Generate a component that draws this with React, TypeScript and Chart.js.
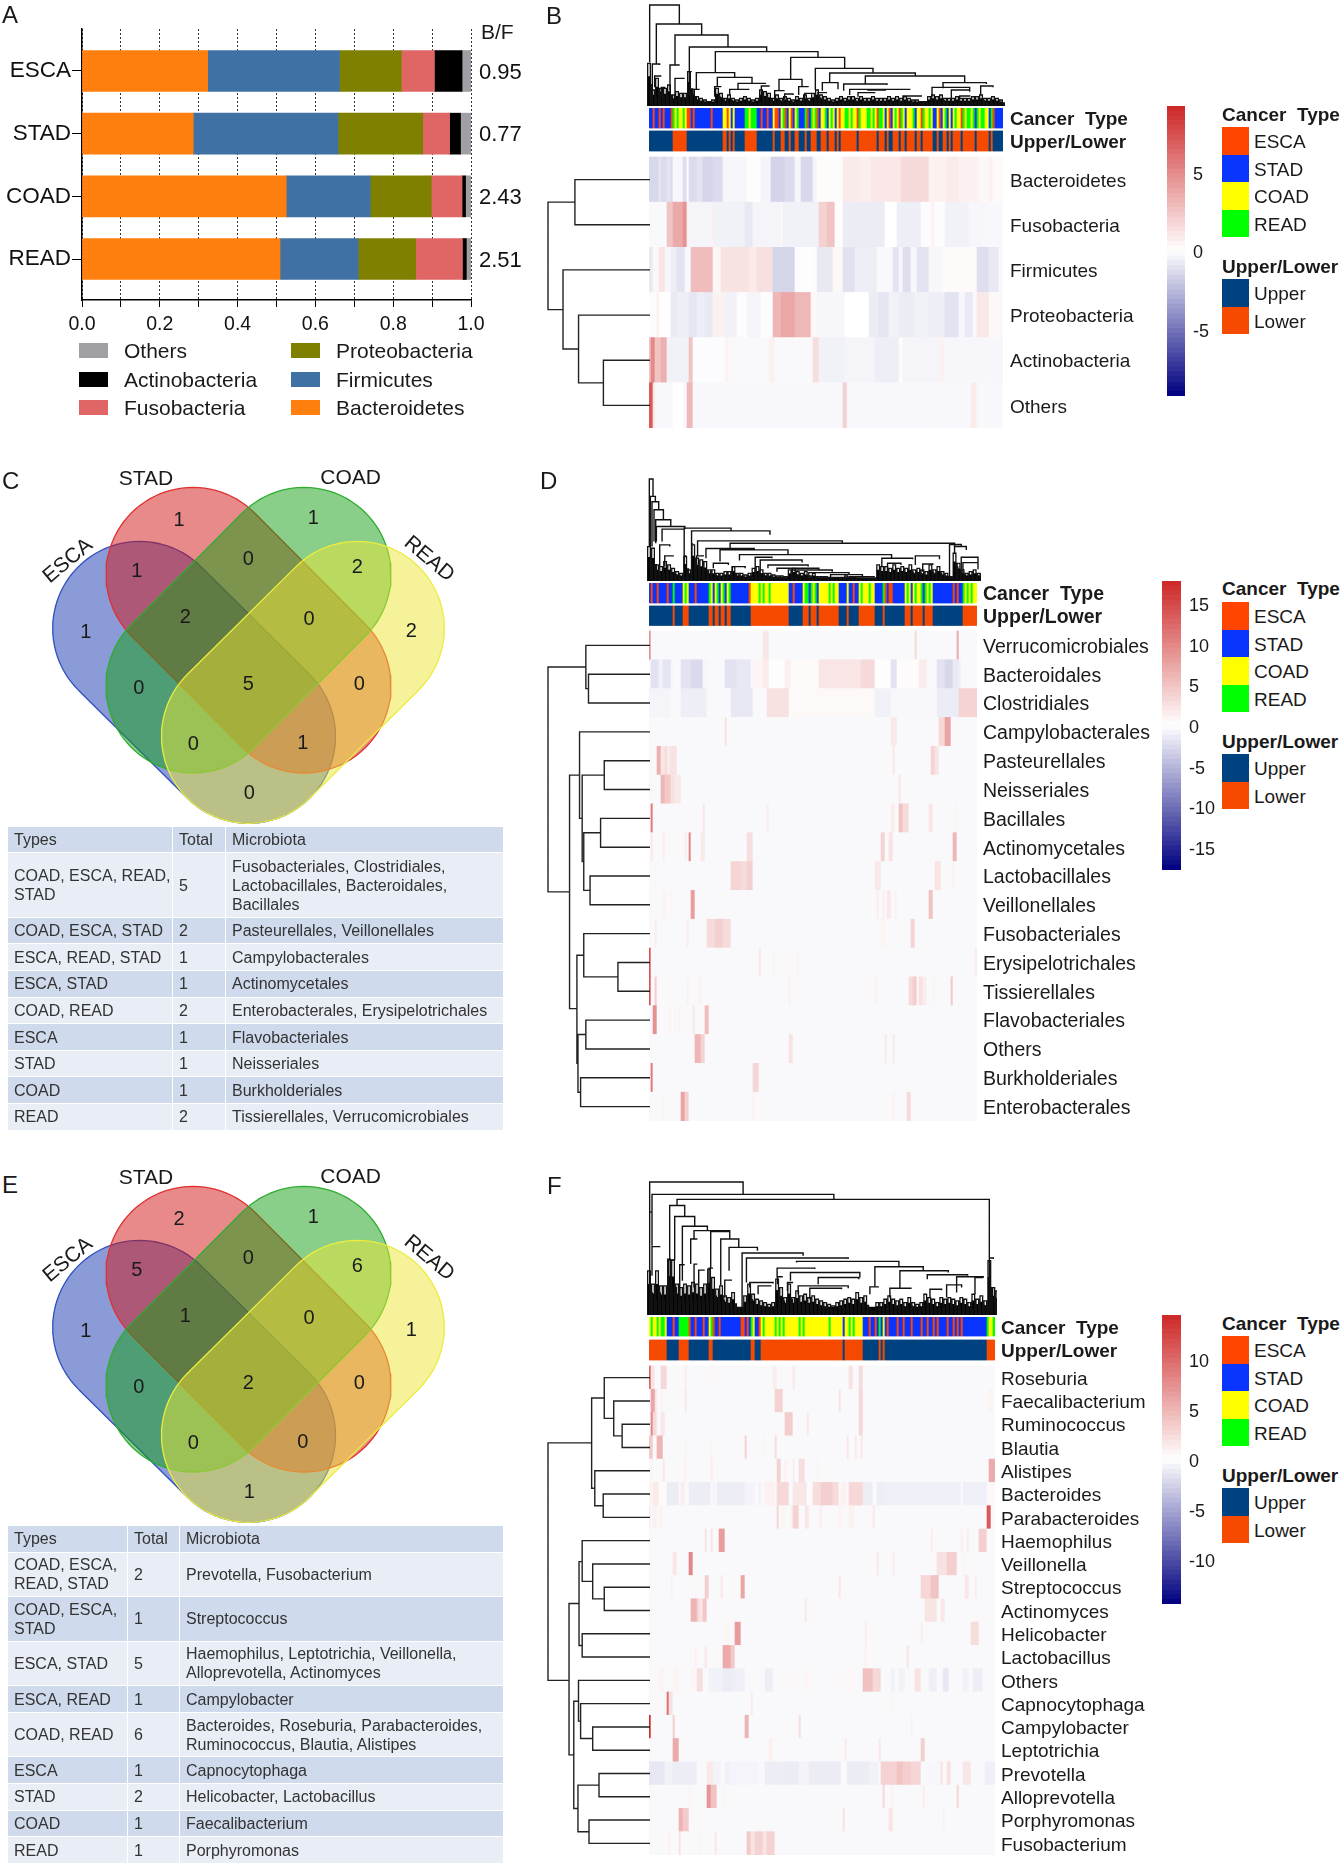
import React, { useEffect, useRef } from "react";
import { Chart, registerables } from "chart.js";
Chart.register(...registerables);

const FONT = "'Liberation Sans', Arial, sans-serif";

/* ---------- Panel A ---------- */
const A_categories = ["ESCA", "STAD", "COAD", "READ"];
const A_ratio = ["0.95", "0.77", "2.43", "2.51"];
const A_Bacteroidetes = [0.323, 0.286, 0.525, 0.509];
const A_Firmicutes = [0.339, 0.372, 0.216, 0.201];
const A_Proteobacteria = [0.159, 0.218, 0.157, 0.148];
const A_Fusobacteria = [0.085, 0.069, 0.079, 0.12];
const A_Actinobacteria = [0.071, 0.028, 0.009, 0.01];
const A_Others = [0.023, 0.027, 0.014, 0.012];

/* ---------- Heat maps: sample order (E/S/C/R per column) ---------- */
const B_types = ["SSESSESESS","SERCRCCRCE","ESESSSSSSS","SESSSSSCCE","CSCSSSSSRR","CRRRSSESSE","SSCEESCRES","CESCRSSSRE","SRCRESCCRS","CRCSCECCRR","CRCCERCCCR","RCRCERRCSC","ESCRCERCSC","CCRSCCERCC","RCSSCESCRS","CSCRCCERCR","RCRSRCRRCC","SRESSSS"].join("");
const D_types = ["SESSESSSSE","SSRSSSSCRC","SSSESSSSSS","RCSCRSCRSC","RSSSSSSSSS","ECCCCRCRCC","RCCCCCCCCC","SSESSSSCRR","SRCRSCCCCC","RCRCCSSSSC","SSESSCRCCC","RCCSSSSRES","EESSSSSSCR","CSCRCCRSRC","RCSSSSSSSS","SSESESSRCR","CRCC"].join("");
const F_types = ["CRCCRCRRCS","SSESSRRRRR","ESSESSSESS","CRESSESSSS","SSSSSSEESE","SRCSSECRCC","CCCRCRCRCC","CCCCCRCRCC","CCCCCCCCCC","RCCCCCCSCC","RCRCCCCSSS","ESSESRSCSE","SSSSESSESS","SESSSSESSE","SSESESSSSE","SSESESESSS","SSSSSSSSSRCCR"].join("");

/* ---------- Panel B rows: [fromColumn, toColumn, value] ---------- */
const B_labels = ["Bacteroidetes", "Fusobacteria", "Firmicutes", "Proteobacteria", "Actinobacteria", "Others"];
const B_Bacteroidetes = [[0,5,-1.4],[5,6,-0.9],[6,9,-1.3],[9,11,-1.0],[11,12,-1.3],[12,17,-0.3],[17,19,-1.2],[19,20,-0.1],[20,24,-1.3],[24,27,-1.0],[27,32,-1.5],[32,37,-1.3],[37,49,-0.3],[49,56,0.1],[56,61,-0.4],[61,68,-1.6],[68,73,-1.3],[73,76,-0.3],[76,82,-1.4],[82,84,-0.4],[84,97,0.15],[97,106,0.9],[106,111,0.7],[111,126,1.0],[126,140,1.6],[140,149,0.6],[149,155,0.9],[155,165,0.6],[165,170,0.3],[170,172,0.6],[172,177,0.2]];
const B_Fusobacteria = [[0,9,-0.2],[9,12,2.5],[12,17,3.6],[17,19,4.6],[19,32,-0.4],[32,33,0.7],[33,48,-0.5],[48,52,-0.8],[52,66,-0.4],[66,67,0.3],[67,85,-0.5],[85,89,1.9],[89,93,2.5],[93,97,0.1],[97,118,-0.7],[118,124,0],[124,136,-0.6],[136,141,-0.1],[141,143,0.5],[143,148,-0.1],[148,160,-0.5],[160,170,-0.3]];
const B_Firmicutes = [[0,2,-0.8],[2,4,0.4],[5,8,1.1],[8,11,-0.3],[11,14,-0.6],[14,18,-1.0],[18,21,-0.2],[21,32,2.8],[32,36,0.4],[36,50,1.2],[50,54,0.9],[54,62,1.3],[62,73,-1.5],[73,77,-0.1],[77,82,0.1],[82,84,-0.1],[84,92,-0.8],[92,97,0.3],[97,103,-1.1],[103,114,-0.6],[114,122,-0.2],[122,125,-1.0],[125,127,-0.3],[127,131,-1.2],[131,134,-0.3],[134,140,-1.0],[140,147,-0.3],[147,164,0.2],[164,170,-1.2],[170,175,-0.8]];
const B_Proteobacteria = [[0,4,-0.1],[4,5,0.7],[5,11,0.05],[11,14,-0.8],[14,20,-0.6],[20,24,-0.9],[24,28,-0.6],[28,32,-0.8],[32,38,0.6],[38,44,-0.5],[44,49,-0.1],[49,56,-0.4],[56,62,0.1],[62,66,3.1],[66,73,3.7],[73,81,3.0],[81,84,0.3],[84,98,-0.3],[98,110,0],[110,115,-0.7],[115,120,-0.9],[120,125,-0.5],[125,133,-0.7],[133,140,-0.5],[140,148,-0.6],[148,155,-1.0],[155,158,-0.3],[158,162,-0.8],[164,170,1.0],[170,175,0.3]];
const B_Actinobacteria = [[0,1,2.5],[1,3,5.0],[3,6,2.5],[6,9,3.4],[9,20,-0.5],[20,22,2.5],[22,38,-0.1],[38,40,0.5],[40,60,-0.2],[60,63,0.6],[63,82,-0.2],[82,85,1.4],[85,98,-0.5],[98,113,-0.4],[113,125,-0.6],[125,127,0.2],[127,146,-0.4],[146,148,0.6],[148,177,-0.3]];
const B_Others = [[0,2,7.0],[2,3,1.0],[12,17,0.0],[19,22,3.0],[59,60,0.4],[97,99,2.0],[140,141,0.4],[161,164,0.8],[166,168,0.3]];

/* ---------- Panel D rows ---------- */
const D_labels = ["Verrucomicrobiales","Bacteroidales","Clostridiales","Campylobacterales","Pasteurellales","Neisseriales","Bacillales","Actinomycetales","Lactobacillales","Veillonellales","Fusobacteriales","Erysipelotrichales","Tissierellales","Flavobacteriales","Others","Burkholderiales","Enterobacterales"];
const D_Verrucomicrobiales = [[0,1,9],[57,60,2],[133,134,3],[154,155,7]];
const D_Bacteroidales = [[1,5,-2],[5,7,-1],[7,11,-1.8],[11,12,-0.8],[16,21,-2],[21,27,-2.6],[27,30,-0.6],[38,44,-2],[44,51,-1.6],[52,57,0.8],[57,60,1.6],[60,68,0.2],[68,71,1.3],[71,85,0.4],[85,106,2.1],[106,113,3.1],[113,121,0.2],[121,124,-2],[124,135,0.3],[135,139,1.6],[144,148,-2],[148,152,-2.8],[152,155,-1.5],[155,156,-1]];
const D_Clostridiales = [[0,11,-0.8],[16,29,-1.2],[41,52,-1.6],[59,70,2.5],[70,113,0.5],[113,121,-1],[121,144,-0.5],[144,155,-1.3],[155,164,3.6]];
const D_Campylobacterales = [[38,39,2.5],[121,124,1.8],[145,148,3.2],[148,151,7.5],[25,26,0.7]];
const D_Pasteurellales = [[4,6,6.5],[6,8,2],[8,9,3],[9,11,1.8],[11,14,2.5],[122,123,2],[141,143,3.5],[143,145,2.2]];
const D_Neisseriales = [[6,8,6],[8,11,4.5],[11,13,2.5],[13,16,1.8],[125,126,2]];
const D_Bacillales = [[1,2,11],[27,28,2],[59,60,1.5],[121,123,1.5],[125,127,5],[127,130,3],[140,142,2],[153,154,1]];
const D_Actinomycetales = [[1,2,1.8],[7,8,1.5],[18,19,1.5],[20,21,10],[26,28,1.8],[49,52,2.6],[116,118,3.6],[120,122,2.4],[152,154,6]];
const D_Lactobacillales = [[3,4,0.8],[41,46,3.5],[46,49,3],[49,52,3.8],[113,116,1.8],[143,146,2.2],[152,153,1.2]];
const D_Veillonellales = [[7,9,1],[11,12,1],[21,23,8],[114,115,1.5],[117,118,1.5],[119,121,1.8],[123,124,1.2],[140,142,5]];
const D_Fusobacteriales = [[3,4,1.5],[19,20,1.5],[29,33,3],[33,37,3.8],[37,41,3],[116,118,1],[131,133,3.6]];
const D_Erysipelotrichales = [[0,1,14],[55,56,1.8],[62,63,1],[70,71,0.8],[74,75,1],[163,164,1.6]];
const D_Tissierellales = [[0,1,14],[3,4,4],[19,20,1.2],[25,26,1.2],[70,71,1.2],[113,114,1.2],[130,132,3],[132,134,4],[135,137,2.5],[137,139,1.5],[142,143,1],[151,152,4.5]];
const D_Flavobacteriales = [[2,4,9],[10,11,1],[13,14,1],[15,16,1],[22,23,2],[28,30,5.5]];
const D_Others = [[23,26,6],[26,28,3.6],[70,72,2.4],[118,119,1.8],[122,123,1.8]];
const D_Burkholderiales = [[1,2,11],[12,13,0.8],[52,55,3.4]];
const D_Enterobacterales = [[7,8,1],[16,18,7.5],[18,20,3.8],[52,53,1.2],[78,79,0.8],[122,123,1.2],[129,131,3]];

/* ---------- Panel F rows ---------- */
const F_labels = ["Roseburia","Faecalibacterium","Ruminococcus","Blautia","Alistipes","Bacteroides","Parabacteroides","Haemophilus","Veillonella","Streptococcus","Actinomyces","Helicobacter","Lactobacillus","Others","Capnocytophaga","Campylobacter","Leptotrichia","Prevotella","Alloprevotella","Porphyromonas","Fusobacterium"];
const F_Roseburia = [[0,1,10],[1,3,1.8],[6,9,2.6],[18,19,1.2],[31,33,0.6],[62,64,1.2],[72,73,1.6],[100,102,1.9],[105,107,2.3]];
const F_Faecalibacterium = [[1,3,6],[3,4,2],[6,7,1],[18,19,1.6],[63,67,3],[95,96,1.8],[105,107,2.6],[170,172,0.8]];
const F_Ruminococcus = [[1,2,8],[2,4,2.5],[6,8,1.6],[68,72,3.4],[79,80,1.5],[105,107,2.6]];
const F_Blautia = [[0,2,3.6],[4,7,5],[18,19,0.8],[31,32,0.8],[48,49,3],[57,58,0.8],[63,64,2.2],[99,100,1.6],[103,104,1.5],[106,107,1.6]];
const F_Alistipes = [[1,2,0.8],[7,8,1.6],[18,19,1],[31,32,1.2],[64,66,3],[68,69,1],[72,73,1.2],[75,78,2.2],[84,85,0.8],[170,173,5.5]];
const F_Bacteroides = [[0,2,0.8],[2,5,1.4],[5,9,0.3],[9,15,-1.1],[16,18,1.2],[20,31,-1],[32,33,-0.6],[34,48,-1],[48,53,-0.7],[55,56,-0.8],[58,63,1],[64,70,2.6],[72,79,1.6],[79,82,0.3],[82,86,2.2],[86,92,3.2],[92,95,2.4],[96,99,0.9],[100,107,2.6],[107,112,-1],[114,118,-1],[118,156,-0.9],[157,169,-0.9],[170,173,0.5]];
const F_Parabacteroides = [[0,1,1.2],[2,4,1],[5,7,0.8],[64,65,2.8],[66,68,0.7],[71,72,1],[72,75,3],[78,80,1.6],[85,87,1],[95,97,0.8],[100,103,0.9],[112,113,1.5],[169,171,11]];
const F_Haemophilus = [[13,14,0.6],[28,29,1.8],[31,32,1.8],[35,38,6.5],[141,142,1.2],[156,157,1.2],[159,160,1.2],[165,169,3.2]];
const F_Veillonella = [[12,14,1.6],[20,22,8],[114,115,1.6],[122,123,1.2],[144,149,2],[149,154,3.2],[157,158,0.7]];
const F_Streptococcus = [[11,12,1],[23,24,0.7],[28,30,3.2],[36,37,1.5],[46,48,6],[95,96,1.6],[136,141,2.7],[141,145,4],[158,160,1.6],[163,164,1.2]];
const F_Actinomyces = [[21,24,5],[24,25,3],[25,27,1.8],[27,29,3.8],[78,79,1.5],[138,144,1.8],[146,148,1.6],[163,164,0.7]];
const F_Helicobacter = [[9,10,0.5],[38,40,0.8],[43,46,6.6],[108,109,1.2],[136,137,1.2],[161,165,2.3]];
const F_Lactobacillus = [[23,24,1],[28,29,1.6],[37,41,5.6],[41,43,3.6],[108,109,1],[129,130,1.8]];
const F_Others = [[5,8,0.8],[12,15,0.8],[21,23,0.7],[24,27,2.2],[30,37,-0.8],[37,42,-1.1],[42,48,-0.9],[58,62,-1],[64,65,0.4],[70,72,0.5],[78,80,0.7],[86,87,0.6],[93,95,0.5],[100,103,0.5],[107,112,4.1],[112,116,2.6],[121,123,-0.8],[125,128,-0.8],[133,136,1.9],[140,144,-0.9],[147,150,-1.3],[157,160,-0.8],[162,167,-1]];
const F_Capnocytophaga = [[9,10,9.5],[10,12,2],[51,52,1.3],[121,122,0.8]];
const F_Campylobacter = [[0,1,14],[12,13,3.2],[48,50,5],[75,76,2.2],[131,132,1]];
const F_Leptotrichia = [[12,15,5.6],[60,62,1],[98,99,1.3],[115,116,1.6],[136,138,3.2]];
const F_Prevotella = [[0,8,-1.3],[8,12,-0.8],[12,24,-1],[29,32,1.5],[32,36,-0.7],[38,41,-0.8],[41,55,-0.6],[58,66,-1],[66,75,-1.1],[75,80,-0.7],[80,96,-1.1],[99,110,-1.1],[110,115,-0.8],[116,124,3],[124,127,4],[127,131,3.3],[131,136,2.8],[139,146,-0.5],[146,147,2],[149,151,2],[157,161,1.6],[168,173,-0.9]];
const F_Alloprevotella = [[20,21,0.9],[29,31,7],[31,34,4],[37,38,0.7],[117,118,2.6],[121,122,1],[137,138,1.2],[154,155,2.8]];
const F_Porphyromonas = [[15,17,5],[17,20,3.6],[97,98,2],[120,122,1.8],[147,148,1]];
const F_Fusobacterium = [[10,11,1],[15,16,2],[25,26,0.8],[33,34,1.5],[49,51,3.6],[51,53,1.8],[53,57,3],[57,59,1.8],[59,63,3]];

/* ---------- Dendrograms: [xLeft, xRight, yLeft, yRight, yTop] ---------- */
const B_merges = [[15,104,187,72,15],[35,171,192,105,72],[91,250,195,141,105],[134,366,218,155,141],[212,520,218,172,155],[438,600,238,205,172],[512,685,270,219,205],[555,812,248,228,219],[662,960,252,248,228],[155,270,268,232,218],[218,322,260,250,232],[280,362,268,252,250],[255,312,285,270,268],[350,375,285,258,258],[403,472,272,262,238],[390,420,295,272,272],[462,490,285,262,260],[533,580,272,268,248],[597,727,272,255,252],[615,795,285,270,268],[670,722,272,272,270],[895,1025,265,252,248],[862,975,290,268,262],[1008,1045,285,262,258],[920,975,295,275,270],[76,105,272,195,195],[91,120,292,235,235],[23,45,285,195,192],[30,50,262,228,228],[50,62,290,262,262],[134,141,290,215,215],[145,165,290,268,268],[210,228,290,262,260],[775,830,295,290,288],[420,445,298,285,282],[480,498,300,282,280],[520,545,295,280,278],[640,690,290,280,278],[945,975,298,290,288]];
const B_fringe = [190,270,235,265,265,255,285,275,280,280,215,268,290,295,300,305,300,265,280,295,285,295,300,295,290,295,300,295,270,275,280,295,285,295,290,295,300,290,295,285,295,280,270,285,290,295,300,295,290,295,290,290,295,290,295,295,290,295,295,295,290,295,290,295,290,295,300,300,305,305,290,285,290,285,295,295,295,290,295,295,295,290,290,285,295,295,290,295,300];
const D_merges = [[14,25,230,80,28],[17,32,230,96,80],[22,42,230,120,96],[28,56,215,150,120],[33,78,220,170,150],[35,120,215,178,170],[52,120,215,178,178],[118,258,258,183,175],[140,374,220,195,183],[158,590,258,218,213],[255,925,237,228,220],[910,945,320,228,224],[925,960,250,240,230],[945,995,300,278,262],[183,327,265,238,236],[225,428,275,252,240],[283,737,272,265,254],[708,800,290,268,265],[808,880,285,268,258],[330,380,295,265,262],[345,470,300,278,270],[368,488,295,290,285],[395,520,305,298,295],[440,560,310,305,300],[490,610,318,312,308],[555,650,322,318,314],[610,685,325,322,320],[60,85,290,260,258],[45,75,290,230,225],[118,125,290,258,258],[140,145,300,222,222],[155,175,300,260,258],[205,250,295,285,280],[262,300,310,295,290],[950,995,310,298,278],[725,765,300,285,280],[830,860,305,285,282]];
const D_fringe = [230,235,285,290,275,285,295,305,310,260,300,225,265,270,275,300,300,310,310,305,305,290,310,310,315,310,295,290,300,310,310,315,318,318,320,300,295,305,310,305,318,310,320,320,320,322,322,322,322,318,322,322,325,325,326,326,326,285,290,290,295,285,295,290,295,285,300,295,300,305,285,300,290,305,310,320,250,280,300,310,305,300,310,312];
const F_merges = [[15,295,125,72,35],[22,567,225,88,72],[97,1033,105,265,87],[75,120,265,138,105],[90,150,268,165,138],[113,188,330,180,167],[148,255,205,205,180],[138,158,280,205,205],[198,255,290,205,183],[228,282,345,232,205],[253,338,300,240,230],[292,475,410,255,247],[305,610,335,265,262],[455,762,275,290,272],[397,510,320,295,292],[690,835,350,300,288],[437,645,330,320,305],[520,642,340,325,320],[765,910,350,305,300],[847,968,325,315,312],[935,1015,365,320,318],[460,610,370,352,345],[495,590,385,355,352],[315,385,350,338,335],[340,380,370,345,345],[398,412,340,320,318],[428,445,360,335,335],[735,800,380,352,352],[675,700,370,350,348],[855,890,380,358,355],[905,950,380,350,342],[990,1015,370,320,320],[22,45,315,230,228],[15,22,430,128,125],[72,90,400,268,268],[105,120,390,282,282],[148,158,350,280,280],[162,180,350,298,298],[193,205,350,292,292],[240,262,380,328,328],[1033,1045,420,265,262]];
const F_fringe = [300,340,300,345,345,265,268,340,350,340,345,335,340,350,340,295,320,355,345,375,380,365,410,410,375,340,370,385,390,395,400,395,325,350,380,340,380,360,375,370,380,375,385,390,395,400,405,395,390,385,380,385,365,380,375,415,420,395,395,385,375,385,390,385,395,380,395,400,395,370,380,385,395,380,385,380,385,390,380,385,395,370,385,375,390,270,350,360];

/* Row trees: [rowA, rowB, depthA, depthB, depthTop] */
const B_rowTree = [[0,1,213,213,68],[4,5,213,213,123],[3,4.5,213,123,75],[2,3.75,213,75,45],[0.5,2.88,68,45,16]];
const D_rowTree = [[1,2,229,229,112],[0,1.5,229,112,107],[4,5,229,229,142],[6,7,229,229,135],[8,9,229,229,115],[6.5,8.5,135,115,103],[4.5,7.5,142,103,100],[3,6,229,100,95],[11,12,229,229,168],[10,11.5,229,168,103],[13,14,229,229,107],[15,16,229,229,97],[13.5,15.5,107,97,92],[10.75,14.5,103,92,90],[4.5,12.6,95,90,76],[0.75,8.55,107,76,35]];
const F_rowTree = [[2,3,229,229,176],[1,2.5,229,176,160],[0,1.75,229,160,142],[5,6,229,229,140],[4,5.5,229,140,124],[0.875,4.75,142,124,118],[9,10,229,229,142],[8,9.5,229,142,120],[7,8.75,229,120,100],[11,12,229,229,100],[7.9,11.5,100,100,94],[15,16,229,229,120],[14,15.5,229,120,97],[13,14.75,229,97,93],[17,18,229,229,132],[19,20,229,229,113],[17.5,19.5,132,113,92],[13.9,18.5,93,92,84],[9.7,16.2,94,84,75],[2.8,13,118,75,35]];

/* ---------- Venn counts, region by region ---------- */
const V_regions = ["E","S","C","R","ES","SC","CR","ESC","SCR","EC","ESCR","SR","ECR","ESR","ER"];
const C_counts = [1,1,1,2,1,0,2,2,0,0,5,0,0,1,0];
const E_counts = [1,2,1,1,5,0,6,1,0,0,2,0,0,0,1];

/* ---------- Tables ---------- */
const C_tableTypes = ["Types","COAD, ESCA, READ,\nSTAD","COAD, ESCA, STAD","ESCA, READ, STAD","ESCA, STAD","COAD, READ","ESCA","STAD","COAD","READ"];
const C_tableTotal = ["Total","5","2","1","1","2","1","1","1","2"];
const C_tableMicro = ["Microbiota","Fusobacteriales, Clostridiales,\nLactobacillales, Bacteroidales,\nBacillales","Pasteurellales, Veillonellales","Campylobacterales","Actinomycetales","Enterobacterales, Erysipelotrichales","Flavobacteriales","Neisseriales","Burkholderiales","Tissierellales, Verrucomicrobiales"];
const E_tableTypes = ["Types","COAD, ESCA,\nREAD, STAD","COAD, ESCA,\nSTAD","ESCA, STAD","ESCA, READ","COAD, READ","ESCA","STAD","COAD","READ"];
const E_tableTotal = ["Total","2","1","5","1","6","1","2","1","1"];
const E_tableMicro = ["Microbiota","Prevotella, Fusobacterium","Streptococcus","Haemophilus, Leptotrichia, Veillonella,\nAlloprevotella, Actinomyces","Campylobacter","Bacteroides, Roseburia, Parabacteroides,\nRuminococcus, Blautia, Alistipes","Capnocytophaga","Helicobacter, Lactobacillus","Faecalibacterium","Porphyromonas"];

/* ---------- helpers ---------- */
const TYPE_COLOR: any = { E: "#FF4500", S: "#0A35FF", C: "#FFFF00", R: "#00FF00" };
const SITE_COLOR: any = { E: "#00427F", S: "#00427F", C: "#F54A00", R: "#F54A00" };

function heatColor(v: number, max: number) {
  const t = Math.min(1, Math.abs(v) / max);
  const end = v >= 0 ? [205, 38, 38] : [0, 0, 128];
  const c = end.map((e) => Math.round(255 + (e - 255) * t));
  return `rgb(${c[0]},${c[1]},${c[2]})`;
}
function expandRuns(runs: number[][], n: number, base: number) {
  const a = new Array(n).fill(base);
  for (const [from, to, v] of runs) for (let c = from; c < to && c < n; c++) a[c] = v;
  return a;
}
const noPad = (s: any) => { s.paddingTop = 0; s.paddingBottom = 0; s.paddingLeft = 0; s.paddingRight = 0; };
const basePlugins = { legend: { display: false }, tooltip: { enabled: false } };

function ChartBox({ left, top, width, height, config }: any) {
  const ref = useRef<HTMLCanvasElement>(null);
  useEffect(() => {
    const chart = new Chart(ref.current as any, config);
    return () => chart.destroy();
  }, []);
  return <canvas ref={ref} width={width} height={height} style={{ position: "absolute", left, top, width, height }} />;
}
function T({ x, y, size = 19, bold = false, color = "#1a1a1a", children }: any) {
  return <div style={{ position: "absolute", left: x, top: y, transform: "translateY(-50%)", font: `${bold ? "bold " : ""}${size}px ${FONT}`, color, whiteSpace: "pre", lineHeight: 1 }}>{children}</div>;
}
function Sw({ x, y, w, h, c }: any) {
  return <div style={{ position: "absolute", left: x, top: y, width: w, height: h, background: c }} />;
}

/* ---------- Panel A config ---------- */
function stackedConfig() {
  const series: any[] = [
    ["Bacteroidetes", A_Bacteroidetes, "#FF7F0E"], ["Firmicutes", A_Firmicutes, "#4071A4"],
    ["Proteobacteria", A_Proteobacteria, "#808000"], ["Fusobacteria", A_Fusobacteria, "#E06666"],
    ["Actinobacteria", A_Actinobacteria, "#000000"], ["Others", A_Others, "#A0A0A4"],
  ];
  const idx = A_categories.map((_, i) => i);
  const yRange = { min: -0.67, max: 3.654, reverse: true, offset: false };
  return {
    type: "bar",
    data: { datasets: series.map(([label, vals, color]) => ({ label, data: vals.map((v: number, i: number) => ({ x: v, y: i })), backgroundColor: color, barThickness: 41, borderWidth: 0 })) },
    options: {
      indexAxis: "y", responsive: false, animation: false, maintainAspectRatio: false,
      layout: { padding: { top: 29 } }, plugins: basePlugins,
      scales: {
        x: { type: "linear", stacked: true, min: 0, max: 1, afterFit: (s: any) => { s.height = 40; noPad(s); },
          grid: { color: "#333", lineWidth: 1, tickLength: 7, tickColor: "#000" }, border: { color: "#000", width: 1.5, dash: [2, 2] },
          ticks: { stepSize: 0.1, color: "#111", padding: 6, maxRotation: 0, autoSkip: false, font: { family: FONT, size: 19.5 }, callback: (v: number) => (Math.round(v * 10) % 2 === 0 ? v.toFixed(1) : "") } },
        y: { type: "linear", stacked: true, ...yRange, afterBuildTicks: (s: any) => { s.ticks = idx.map((value) => ({ value })); }, afterFit: (s: any) => { s.width = 82; noPad(s); },
          grid: { drawOnChartArea: false, offset: false, tickLength: 10, tickColor: "#000", lineWidth: 1 }, border: { color: "#000", width: 1.5 },
          ticks: { color: "#111", padding: 1, font: { family: FONT, size: 22.5 }, callback: (_: any, i: number) => A_categories[i] } },
        y2: { type: "linear", axis: "y", position: "right", ...yRange, afterBuildTicks: (s: any) => { s.ticks = idx.map((value) => ({ value: value + 0.025 })); }, afterFit: (s: any) => { s.width = 69; noPad(s); },
          grid: { display: false, drawTicks: false }, border: { display: false },
          ticks: { color: "#111", padding: 8, font: { family: FONT, size: 22 }, callback: (_: any, i: number) => A_ratio[i] } },
      },
    },
  };
}

/* ---------- Heat map config ---------- */
function heatConfig(opt: any) {
  const { types, labels, rows, max, base, heatH, stripH, gap1, gap2, stripH2, labelPad, axisW, fontSize } = opt;
  const n = types.length;
  const colLabels = Array.from(types as string).map((_, i) => String(i));
  const rowH = heatH / labels.length;
  const datasets: any[] = [];
  const centers: number[] = [];
  const tickText: string[] = [];
  const nudge = 2; // Chart.js centres tick text slightly above the row middle
  let y = 0;
  for (let r = labels.length - 1; r >= 0; r--) {
    const vals = expandRuns(rows[r], n, base);
    datasets.push({ data: new Array(n).fill(rowH), backgroundColor: vals.map((v: number) => heatColor(v, max)) });
    centers.push(y + rowH / 2 - nudge); tickText.push(labels[r]); y += rowH;
  }
  datasets.push({ data: new Array(n).fill(gap2), backgroundColor: "rgba(0,0,0,0)" }); y += gap2;
  datasets.push({ data: new Array(n).fill(stripH2), backgroundColor: Array.from(types as string).map((t) => SITE_COLOR[t]) });
  centers.push(y + stripH2 / 2 - nudge); tickText.push("Upper/Lower"); y += stripH2;
  datasets.push({ data: new Array(n).fill(gap1), backgroundColor: "rgba(0,0,0,0)" }); y += gap1;
  datasets.push({ data: new Array(n).fill(stripH), backgroundColor: Array.from(types as string).map((t) => TYPE_COLOR[t]) });
  centers.push(y + stripH / 2 - nudge); tickText.push("Cancer  Type"); y += stripH;
  const count = labels.length;
  return {
    type: "bar",
    data: { labels: colLabels, datasets: datasets.map((d) => ({ ...d, borderWidth: 0, barPercentage: 1, categoryPercentage: 1 })) },
    options: {
      responsive: false, animation: false, maintainAspectRatio: false, plugins: basePlugins,
      scales: {
        x: { type: "category", stacked: true, display: false },
        y: { type: "linear", stacked: true, position: "right", min: 0, max: y,
          afterBuildTicks: (s: any) => { s.ticks = centers.map((value) => ({ value })); },
          afterFit: (s: any) => { s.width = axisW; noPad(s); },
          grid: { display: false, drawTicks: false }, border: { display: false },
          ticks: { padding: labelPad, autoSkip: false, color: "#1a1a1a", callback: (_: any, i: number) => tickText[i],
            font: (ctx: any) => ({ family: FONT, size: fontSize, weight: ctx.index >= count ? "bold" : "normal" }) } },
      },
    },
  };
}

/* ---------- colour bar ---------- */
function colorbarConfig(max: number, tickVals: number[], axisW: number, height: number) {
  const steps = 60;
  const datasets = [];
  for (let i = 0; i < steps; i++) {
    const lo = -max + (i * 2 * max) / steps;
    const hi = lo + (2 * max) / steps;
    datasets.push({ data: [[lo, hi]], backgroundColor: heatColor((lo + hi) / 2, max), borderWidth: 0, barPercentage: 1, categoryPercentage: 1, grouped: false });
  }
  const nudge = (2.5 * 2 * max) / height;
  return {
    type: "bar",
    data: { labels: [""], datasets },
    options: {
      responsive: false, animation: false, maintainAspectRatio: false, plugins: basePlugins,
      scales: {
        x: { display: false, grid: { display: false } },
        y: { type: "linear", position: "right", min: -max, max, afterBuildTicks: (s: any) => { s.ticks = tickVals.map((value) => ({ value: value - nudge })); },
          afterFit: (s: any) => { s.width = axisW; noPad(s); }, grid: { display: false, drawTicks: false }, border: { display: false },
          ticks: { padding: 8, color: "#1a1a1a", font: { family: FONT, size: 18 }, callback: (_: any, i: number) => String(tickVals[i]) } },
      },
    },
  };
}

/* ---------- dendrograms ---------- */
function treeLines(merges: number[][]) {
  const pts: any[] = [];
  for (const [xl, xr, yl, yr, top] of merges) {
    pts.push({ x: xl, y: yl }, { x: xl, y: top }, { x: xr, y: top }, { x: xr, y: yr }, { x: NaN, y: NaN });
  }
  return pts;
}
function fringeLines(fringe: number[], xStart: number, bottom: number) {
  const pts: any[] = [];
  fringe.forEach((top, i) => {
    const x = xStart + i * 12;
    const mid = (top + bottom) / 2;
    pts.push({ x: x - 4, y: bottom }, { x: x - 4, y: top }, { x: x + 4, y: top }, { x: x + 4, y: bottom }, { x: NaN, y: NaN });
    pts.push({ x: x + 6, y: bottom }, { x: x + 6, y: mid }, { x: x + 10, y: mid }, { x: x + 10, y: bottom }, { x: NaN, y: NaN });
  });
  return pts;
}
function fringeMass(fringe: number[], xStart: number, bottom: number) {
  const pts: any[] = [];
  fringe.forEach((top, i) => {
    const x = xStart + i * 12;
    pts.push({ x, y: bottom }, { x, y: top + (bottom - top) * 0.3 }, { x: NaN, y: NaN });
  });
  return pts;
}
function lineOptions(xMin: number, xMax: number, yMin: number, yMax: number) {
  return {
    responsive: false, animation: false, maintainAspectRatio: false, layout: { padding: 2 }, plugins: basePlugins,
    scales: {
      x: { type: "linear", display: false, min: xMin, max: xMax },
      y: { type: "linear", display: false, min: yMin, max: yMax, reverse: true },
    },
  };
}
const lineDs = (data: any[], width: number, color = "#111") => ({ data, showLine: true, spanGaps: false, pointRadius: 0, borderWidth: width, borderColor: color, fill: false, clip: false, tension: 0 });
function topTreeConfig(merges: number[][], fringe: number[], xMin: number, xMax: number, yTop: number, yBottom: number, bandY: number, bandW: number) {
  return {
    type: "scatter",
    data: { datasets: [
      lineDs(treeLines(merges), 1.4),
      lineDs(fringeLines(fringe, xMin, yBottom), 1.3),
      lineDs(fringeMass(fringe, xMin, yBottom), 3.2, "#000"),
      lineDs([{ x: xMin, y: bandY }, { x: xMax, y: bandY }], bandW, "#000"),
    ] },
    options: lineOptions(xMin, xMax, yTop, yBottom),
  };
}
function rowTreeConfig(tree: number[][], nRows: number, xMin: number, xMax: number) {
  const pts: any[] = [];
  for (const [ra, rb, xa, xb, top] of tree) {
    pts.push({ x: xa, y: ra }, { x: top, y: ra }, { x: top, y: rb }, { x: xb, y: rb }, { x: NaN, y: NaN });
  }
  return { type: "scatter", data: { datasets: [lineDs(pts, 1.4, "#222")] }, options: lineOptions(xMin, xMax, -0.5, nRows - 0.5) };
}

/* ---------- Venn ---------- */
function stadium(x1: number, y1: number, x2: number, y2: number, r: number) {
  const a = Math.atan2(y2 - y1, x2 - x1);
  const pts: any[] = [];
  for (let i = 0; i <= 48; i++) {
    const t = a + Math.PI / 2 + (i / 48) * Math.PI;
    pts.push({ x: x1 + r * Math.cos(t), y: y1 + r * Math.sin(t) });
  }
  for (let i = 0; i <= 48; i++) {
    const t = a - Math.PI / 2 + (i / 48) * Math.PI;
    pts.push({ x: x2 + r * Math.cos(t), y: y2 + r * Math.sin(t) });
  }
  pts.push(pts[0]);
  return pts;
}
function vennConfig(counts: number[]) {
  /* Chart.js paints the first dataset last, so READ (on top) comes first. */
  const sets: any[] = [
    ["READ", stadium(357.3, 628.4, 248.5, 736.3, 87), "rgba(235,229,53,0.5)", "#ECEC40"],
    ["COAD", stadium(304, 574.4, 193, 686, 87), "rgba(19,159,19,0.5)", "#2EAD2E"],
    ["STAD", stadium(193, 574.4, 304, 686, 87), "rgba(209,21,21,0.5)", "#E03030"],
    ["ESCA", stadium(139.7, 628.4, 248.5, 736.3, 87), "rgba(21,55,177,0.5)", "#2F50C0"],
  ];
  const regionAt: any = { E: [85.7, 632.8], S: [179, 520.5], C: [313.3, 518.3], R: [411.3, 631.5], ES: [136.7, 571], SC: [248.3, 559], CR: [357.3, 567.6], ESC: [185.3, 617.8], SCR: [309, 619.6], EC: [138.7, 688], ESCR: [248.3, 684.8], SR: [359.3, 684], ECR: [193.3, 744.3], ESR: [302.7, 743.8], ER: [249.3, 793.6] };
  const setLabels: any[] = [["ESCA", 68, 561, -40], ["STAD", 146, 479.5, 0], ["COAD", 350.7, 478.6, 0], ["READ", 429, 559, 40]];
  const labelPlugin = {
    id: "vennLabels",
    afterDatasetsDraw(chart: any) {
      const { ctx, scales } = chart;
      ctx.save();
      ctx.textAlign = "center"; ctx.textBaseline = "middle"; ctx.fillStyle = "#1a1a1a";
      ctx.font = `20px ${FONT}`;
      V_regions.forEach((r, i) => { const [x, y] = regionAt[r]; ctx.fillText(String(counts[i]), scales.x.getPixelForValue(x), scales.y.getPixelForValue(y)); });
      ctx.font = `21px ${FONT}`;
      for (const [text, x, y, deg] of setLabels) {
        ctx.save();
        ctx.translate(scales.x.getPixelForValue(x), scales.y.getPixelForValue(y));
        ctx.rotate((deg * Math.PI) / 180);
        ctx.fillText(text, 0, 0);
        ctx.restore();
      }
      ctx.restore();
    },
  };
  return {
    type: "scatter",
    data: { datasets: sets.map(([label, data, bg, line]) => ({ label, data, showLine: true, pointRadius: 0, borderWidth: 1.3, borderColor: line, backgroundColor: bg, fill: "shape", tension: 0, clip: false })) },
    options: { responsive: false, animation: false, maintainAspectRatio: false, plugins: basePlugins,
      scales: { x: { type: "linear", display: false, min: 0, max: 510 }, y: { type: "linear", display: false, min: 465, max: 830, reverse: true } } },
    plugins: [labelPlugin],
  };
}

function InfoTable({ left, top, cols, heights, types, totals, micro }: any) {
  const cell = (bg: string, w?: number): any => ({ background: bg, padding: "0 0 0 6px", borderRight: "1.5px solid #fff", borderBottom: "1.5px solid #fff", whiteSpace: "pre", boxSizing: "border-box", width: w, overflow: "hidden" });
  return (
    <table style={{ position: "absolute", left, top, width: cols[0] + cols[1] + cols[2], tableLayout: "fixed", borderCollapse: "separate", borderSpacing: 0, font: `16px/19px ${FONT}`, color: "#333" }}>
      <tbody>
        {types.map((t: string, i: number) => {
          const bg = i % 2 === 0 ? "#CFDBEC" : "#E8EDF6";
          return (
            <tr key={i} style={{ height: heights[i] }}>
              <td style={cell(bg, cols[0])}>{t}</td>
              <td style={cell(bg, cols[1])}>{totals[i]}</td>
              <td style={cell(bg, cols[2])}>{micro[i]}</td>
            </tr>
          );
        })}
      </tbody>
    </table>
  );
}

function HeatLegend({ x, titleY, swY, siteTitleY, siteY }: any) {
  const lx = x + 32;
  const names = [["ESCA", "#FF4500"], ["STAD", "#0A35FF"], ["COAD", "#FFFF00"], ["READ", "#00FF00"]];
  const sites = [["Upper", "#00427F"], ["Lower", "#F54A00"]];
  return (
    <>
      <T x={x} y={titleY} bold>{"Cancer  Type"}</T>
      {names.map(([n, c], i) => (
        <React.Fragment key={n}>
          <Sw x={x} y={swY + i * 27.5} w={27} h={27.5} c={c} />
          <T x={lx} y={swY + i * 27.5 + 14}>{n}</T>
        </React.Fragment>
      ))}
      <T x={x} y={siteTitleY} bold>Upper/Lower</T>
      {sites.map(([n, c], i) => (
        <React.Fragment key={n}>
          <Sw x={x} y={siteY + i * 27.5} w={27} h={27.5} c={c} />
          <T x={lx} y={siteY + i * 27.5 + 14}>{n}</T>
        </React.Fragment>
      ))}
    </>
  );
}

const A_legend: any[] = [
  ["Others", "#A0A0A4", 79, 350], ["Actinobacteria", "#000000", 79, 379], ["Fusobacteria", "#E06666", 79, 407],
  ["Proteobacteria", "#808000", 291, 350], ["Firmicutes", "#4071A4", 291, 379], ["Bacteroidetes", "#FF7F0E", 291, 407],
];

export default function App() {
  const bRows = [B_Bacteroidetes, B_Fusobacteria, B_Firmicutes, B_Proteobacteria, B_Actinobacteria, B_Others];
  const dRows = [D_Verrucomicrobiales, D_Bacteroidales, D_Clostridiales, D_Campylobacterales, D_Pasteurellales, D_Neisseriales, D_Bacillales, D_Actinomycetales, D_Lactobacillales, D_Veillonellales, D_Fusobacteriales, D_Erysipelotrichales, D_Tissierellales, D_Flavobacteriales, D_Others, D_Burkholderiales, D_Enterobacterales];
  const fRows = [F_Roseburia, F_Faecalibacterium, F_Ruminococcus, F_Blautia, F_Alistipes, F_Bacteroides, F_Parabacteroides, F_Haemophilus, F_Veillonella, F_Streptococcus, F_Actinomyces, F_Helicobacter, F_Lactobacillus, F_Others, F_Capnocytophaga, F_Campylobacter, F_Leptotrichia, F_Prevotella, F_Alloprevotella, F_Porphyromonas, F_Fusobacterium];
  return (
    <div style={{ position: "absolute", left: 0, top: 0, width: 1344, height: 1865, overflow: "hidden", background: "#fff" }}>
      {/* Panel A */}
      <ChartBox left={0} top={0} width={540} height={340} config={stackedConfig()} />
      <T x={2} y={15} size={24}>A</T>
      <T x={481} y={31} size={21}>B/F</T>
      {A_legend.map(([n, c, x, y]) => (
        <React.Fragment key={n}>
          <Sw x={x} y={y - 7.5} w={29} h={15} c={c} />
          <T x={x + 45} y={y} size={21}>{n}</T>
        </React.Fragment>
      ))}

      {/* Panel B */}
      <T x={546} y={16} size={24}>B</T>
      <ChartBox left={647} top={3} width={358} height={105} config={topTreeConfig(B_merges, B_fringe, 13, 1075, 15, 318, 311, 4)} />
      <ChartBox left={649} top={108} width={512} height={320} config={heatConfig({ types: B_types, labels: B_labels, rows: bRows, max: 9.2, base: -0.25, heatH: 271, stripH: 20, stripH2: 20, gap1: 3, gap2: 6, labelPad: 7, axisW: 158, fontSize: 19 })} />
      <ChartBox left={546} top={155} width={106} height={275} config={rowTreeConfig(B_rowTree, 6, 16, 213)} />
      <ChartBox left={1167} top={106} width={60} height={290} config={colorbarConfig(9.2, [-5, 0, 5], 42, 290)} />
      <HeatLegend x={1222} titleY={114} swY={127} siteTitleY={266} siteY={279} />

      {/* Panel C */}
      <T x={2} y={481} size={24}>C</T>
      <ChartBox left={0} top={465} width={510} height={365} config={vennConfig(C_counts)} />
      <InfoTable left={8} top={827} cols={[165, 53, 278]} heights={[26.4, 64.5, 26.6, 26.6, 26.6, 26.6, 26.6, 26.6, 26.6, 26.6]} types={C_tableTypes} totals={C_tableTotal} micro={C_tableMicro} />

      {/* Panel D */}
      <T x={540} y={481} size={24}>D</T>
      <ChartBox left={647} top={477} width={334} height={106} config={topTreeConfig(D_merges, D_fringe, 13, 998, 28, 333, 327, 3.5)} />
      <ChartBox left={649} top={583} width={512} height={538} config={heatConfig({ types: D_types, labels: D_labels, rows: dRows, max: 17.8, base: -0.45, heatH: 490, stripH: 20, stripH2: 19.5, gap1: 3, gap2: 5.5, labelPad: 6, axisW: 184, fontSize: 19.5 })} />
      <ChartBox left={546} top={629} width={106} height={494} config={rowTreeConfig(D_rowTree, 17, 35, 229)} />
      <ChartBox left={1162} top={581} width={60} height={289} config={colorbarConfig(17.8, [-15, -10, -5, 0, 5, 10, 15], 41, 289)} />
      <HeatLegend x={1222} titleY={588} swY={602} siteTitleY={741} siteY={754} />

      {/* Panel E */}
      <T x={2} y={1185} size={24}>E</T>
      <ChartBox left={0} top={1164} width={510} height={365} config={vennConfig(E_counts)} />
      <InfoTable left={8} top={1526} cols={[120, 52, 324]} heights={[26.7, 44.5, 44.5, 44.5, 26.7, 44.5, 26.7, 26.7, 26.7, 26.7]} types={E_tableTypes} totals={E_tableTotal} micro={E_tableMicro} />

      {/* Panel F */}
      <T x={547} y={1186} size={24}>F</T>
      <ChartBox left={647} top={1180} width={350} height={137} config={topTreeConfig(F_merges, F_fringe, 13, 1050, 35, 432, 419, 8)} />
      <ChartBox left={649} top={1317} width={512} height={538} config={heatConfig({ types: F_types, labels: F_labels, rows: fRows, max: 14.4, base: -0.35, heatH: 489, stripH: 19, stripH2: 20, gap1: 4, gap2: 6, labelPad: 6, axisW: 166, fontSize: 19 })} />
      <ChartBox left={546} top={1364} width={106} height={493} config={rowTreeConfig(F_rowTree, 21, 35, 229)} />
      <ChartBox left={1162} top={1315} width={60} height={289} config={colorbarConfig(14.4, [-10, -5, 0, 5, 10], 41, 289)} />
      <HeatLegend x={1222} titleY={1323} swY={1336} siteTitleY={1475} siteY={1488} />
    </div>
  );
}
